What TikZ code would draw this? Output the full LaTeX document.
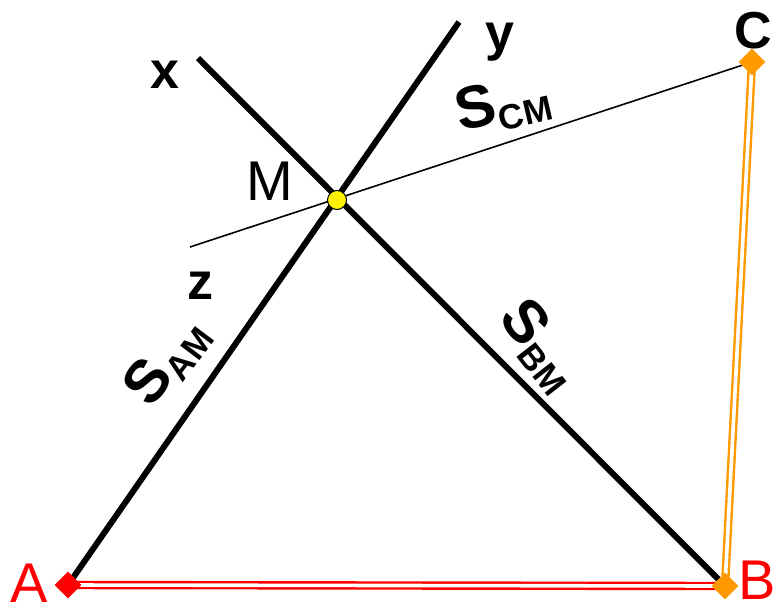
\documentclass[tikz,border=0pt]{standalone}
\usepackage{fontspec}
\setmainfont{Liberation Sans}
\usetikzlibrary{shapes.geometric}
\definecolor{myorange}{RGB}{255,153,0}
\definecolor{myred}{RGB}{255,0,0}
\begin{document}
\begin{tikzpicture}[x={(1pt,0)},y={(0,-1pt)},
  axis/.style={line width=6pt,black},
  thinline/.style={line width=1.6pt,black},
  dbl/.style={line width=2.4pt,double=white,double distance=3.6pt},
  corner/.style={diamond,minimum size=27pt,inner sep=0pt},
  bold/.style={font=\fontsize{52}{52}\selectfont\bfseries,inner sep=0pt},
  reg/.style={font=\fontsize{56}{56}\selectfont,inner sep=0pt},
  slab/.style={inner sep=0pt}]
\useasboundingbox (0,0) rectangle (778,608);
% points
\coordinate (M) at (337,200);
\coordinate (A) at (68,585);
\coordinate (B) at (725,586);
\coordinate (C) at (752,62);
\coordinate (yend) at (459,22);
\coordinate (xend) at (198,58);
\coordinate (zend) at (190,247);
% lines
\draw[thinline] (zend) -- (C);
\draw[axis] (A) -- (yend);
\draw[axis] (xend) -- (B);
\draw[dbl,myred] (A) -- (B);
\draw[dbl,myorange] (B) -- (C);
% corner markers
\node[corner,fill=myred] (nA) at (A) {};
\node[corner,fill=myorange] (nB) at (B) {};
\node[corner,fill=myorange] (nC) at (C) {};
\node[circle,fill=yellow,draw=black,line width=1pt,minimum size=19pt,inner sep=0pt] (nM) at (M) {};
% labels
\node[bold] (lx) at (165,75) {x};
\node[bold] (ly) at (500,42) {y};
\node[bold] (lz) at (200,286) {z};
\node[bold] (lC) at (753,31) {C};
\node[reg] (lM) at (270,181) {M};
\node[reg,text=myred] (lA) at (29,583) {A};
\node[reg,text=myred] (lB) at (757,580) {B};
\node[slab,rotate=53] (sAM) at (167,362) {\fontsize{60}{60}\selectfont\bfseries S\raisebox{-9pt}{\fontsize{35}{35}\selectfont AM}};
\node[slab,rotate=-52] (sBM) at (540,346) {\fontsize{60}{60}\selectfont\bfseries S\raisebox{-9pt}{\fontsize{35}{35}\selectfont BM}};
\node[slab,rotate=13] (sCM) at (503,105) {\fontsize{60}{60}\selectfont\bfseries S\raisebox{-9pt}{\fontsize{35}{35}\selectfont CM}};
\end{tikzpicture}
\end{document}
